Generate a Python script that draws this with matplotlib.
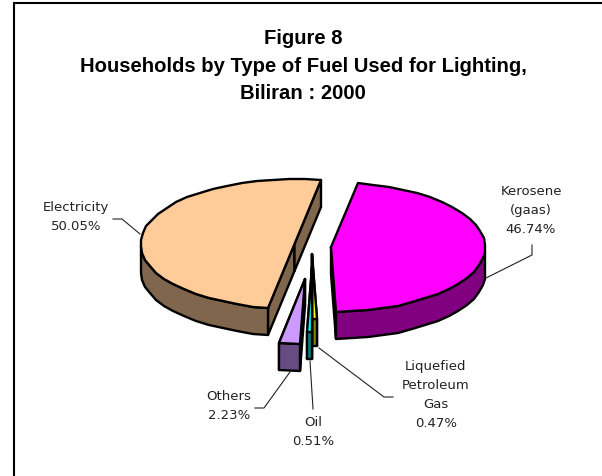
import numpy as np
import matplotlib
matplotlib.use('Agg')
import matplotlib.pyplot as plt
from matplotlib.patches import Polygon, Rectangle

title_lines = "Figure 8\nHouseholds by Type of Fuel Used for Lighting,\nBiliran : 2000"

# values in the order the slices run clockwise
fuel_names = ["Kerosene", "Liquefied Petroleum Gas", "Oil", "Others", "Electricity"]
fuel_shares = [46.74, 0.47, 0.51, 2.23, 50.05]
top_colors = ["#FF00FF", "#FFFF00", "#00FFFF", "#CC99FF", "#FFCC99"]
side_colors = ["#800080", "#808000", "#008080", "#664C80", "#80664D"]

# apex of each exploded slice, in picture pixels
apex_x = [331, 312, 312, 305, 294.5]
apex_y = [248, 255, 268, 280, 245]

label_text = ["Kerosene\n(gaas)\n46.74%", "Liquefied\nPetroleum\nGas\n0.47%", "Oil\n0.51%", "Others\n2.23%", "Electricity\n50.05%"]
label_x = [531, 436, 313, 229, 76]
label_y = [210.5, 395, 432.5, 406, 217.5]

# leader lines
leaders = [
    ([486, 532, 532], [279, 256, 246]),
    ([319, 384, 393], [349, 398, 398]),
    ([310, 313], [362, 410]),
    ([290, 264, 255], [373, 409, 409]),
    ([140, 122, 113], [235, 220, 220]),
]

start_angle = 80
rx = 154
ry = 65
depth = 27
edge_w = 1.7

fig = plt.figure(figsize=(6.02, 4.77), dpi=100)
ax = fig.add_axes([0, 0, 1, 1])
ax.set_xlim(0, 602)
ax.set_ylim(477, 0)
ax.axis('off')

ax.add_patch(Rectangle((14, 4), 700, 600, fc='white', ec='black', lw=1.5))

for lx, ly in leaders:
    ax.plot(lx, ly, color='#222222', lw=0.8, zorder=1)


def rim(cx, cy, a0, a1, step=6):
    n = max(2, int(abs(a1 - a0) / step) + 1)
    t = np.linspace(a0, a1, n)
    r = np.radians(t)
    return t, np.round(cx + rx * np.cos(r)), np.round(cy - ry * np.sin(r))


a = start_angle
edges = []
for share in fuel_shares:
    edges.append((a, a - share * 3.6))
    a -= share * 3.6

# big slices first, slivers on top
for i in [4, 0, 1, 2, 3]:
    a0, a1 = edges[i]
    cx, cy = apex_x[i], apex_y[i]
    t, x, y = rim(cx, cy, a0, a1)

    # cut faces
    for ex, ey in [(x[0], y[0]), (x[-1], y[-1])]:
        face = [(cx, cy), (ex, ey), (ex, ey + depth), (cx, cy + depth)]
        if i == 4 or ey > cy:
            ax.add_patch(Polygon(face, fc=side_colors[i], ec='black', lw=edge_w, joinstyle='round', zorder=2 + i))

    # outer wall, only the part of the rim facing the viewer
    front = np.sin(np.radians(t)) <= 0.02
    if front.any():
        fx, fy = x[front], y[front]
        wall = list(zip(fx, fy)) + list(zip(fx[::-1], fy[::-1] + depth))
        ax.add_patch(Polygon(wall, fc=side_colors[i], ec='black', lw=edge_w, joinstyle='round', zorder=2 + i))

    top = [(cx, cy)] + list(zip(x, y))
    ax.add_patch(Polygon(top, fc=top_colors[i], ec='black', lw=edge_w, joinstyle='round', zorder=2 + i))

for txt, lx, ly in zip(label_text, label_x, label_y):
    ax.text(lx, ly, txt, ha='center', va='center', fontsize=9.5, color='#222222',
            family='DejaVu Sans', linespacing=1.6, zorder=20)

ax.text(303, 66, title_lines, ha='center', va='center', fontsize=14.6, fontweight='bold',
        family='Liberation Sans', linespacing=1.55, color='black')

fig.savefig('out.png', dpi=100)
